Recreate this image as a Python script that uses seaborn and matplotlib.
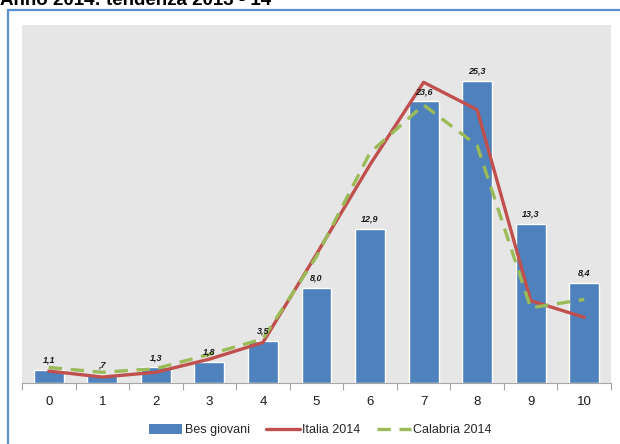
import matplotlib
matplotlib.use("Agg")
import matplotlib.pyplot as plt
from matplotlib.lines import Line2D
from matplotlib.patches import Patch
import seaborn as sns
import pandas as pd

# Data
classes = [0, 1, 2, 3, 4, 5, 6, 7, 8, 9, 10]
bes_giovani = [1.1, 0.7, 1.3, 1.8, 3.5, 8.0, 12.9, 23.6, 25.3, 13.3, 8.4]
italia_2014 = [1.0, 0.5, 0.9, 2.0, 3.4, 10.8, 18.3, 25.2, 22.9, 6.9, 5.5]
calabria_2014 = [1.3, 0.9, 1.2, 2.4, 3.7, 10.6, 19.3, 23.3, 19.9, 6.3, 7.0]
title = "Anno 2014: tendenza 2013 - 14"

BLUE = "#4F81BD"
RED = "#C0504D"
GREEN = "#9BBB59"

sns.set_theme(style="white")
plt.rcParams["font.family"] = ["Liberation Sans", "DejaVu Sans"]

df = pd.DataFrame({"classe": classes, "bes": bes_giovani,
                   "italia": italia_2014, "calabria": calabria_2014})

fig = plt.figure(figsize=(6.2, 4.44), dpi=100)
fig.patch.set_facecolor("white")
ax = fig.add_axes([22 / 620, 61 / 444, 589 / 620, 358 / 444])
ax.set_facecolor("#E6E6E6")

sns.barplot(data=df, x="classe", y="bes", color=BLUE, width=0.56,
            saturation=1, ax=ax, zorder=2)
sns.lineplot(data=df, x="classe", y="italia", color=RED, linewidth=2.4,
             ax=ax, zorder=3)
sns.lineplot(data=df, x="classe", y="calabria", color=GREEN, linewidth=2.4,
             ax=ax, zorder=4, dashes=False, linestyle=(0, (4, 2.6)))

# value labels in Italian decimal notation
for i, v in enumerate(bes_giovani):
    s = f"{v:.1f}".replace(".", ",")
    if s.startswith("0,"):
        s = s[1:]
    ax.text(i, v + 0.45, s, ha="center", va="bottom", fontsize=6.5,
            fontweight="bold", fontstyle="italic", color="#1a1a1a", zorder=5)

ax.set_xlim(-0.5, 10.5)
ax.set_ylim(0, 30)
ax.set_xlabel("")
ax.set_ylabel("")
ax.set_yticks([])
ax.set_xticks(range(len(classes)))
ax.set_xticklabels([str(c) for c in classes], fontsize=9.5, color="#1a1a1a")
ax.set_xticks([x + 0.5 for x in range(-1, 11)], minor=True)
ax.tick_params(axis="x", which="major", length=0, pad=9)
ax.tick_params(axis="x", which="minor", length=5, width=0.8,
               color="#A6A6A6", direction="out", bottom=True)
for side in ["top", "right", "left"]:
    ax.spines[side].set_visible(False)
ax.spines["bottom"].set_color("#A6A6A6")
ax.spines["bottom"].set_linewidth(0.8)
ax.grid(False)

handles = [
    Patch(facecolor=BLUE, edgecolor="none"),
    Line2D([], [], color=RED, linewidth=2.4),
    Line2D([], [], color=GREEN, linewidth=2.4, linestyle=(0, (4, 2.6))),
]
fig.legend(handles, ["Bes giovani", "Italia 2014", "Calabria 2014"],
           loc="center", bbox_to_anchor=(320 / 620, 1 - 430 / 444),
           ncol=3, frameon=False, fontsize=9, handlelength=2.7,
           handletextpad=0.2, columnspacing=1.3, handleheight=0.9)

# outer frame
fig.add_artist(Line2D([8 / 620, 8 / 620], [0, 1 - 10 / 444],
                      transform=fig.transFigure, color="#5B8FD0", linewidth=1.6))
fig.add_artist(Line2D([8 / 620, 1], [1 - 10 / 444, 1 - 10 / 444],
                      transform=fig.transFigure, color="#5B8FD0", linewidth=1.6))

# heading of the page above the frame, partly beyond the top edge
fig.text(0.0, 1 - 5 / 444, title, ha="left", va="baseline", fontsize=13.5,
         fontweight="bold", color="black")

fig.savefig("out.png", dpi=100)
